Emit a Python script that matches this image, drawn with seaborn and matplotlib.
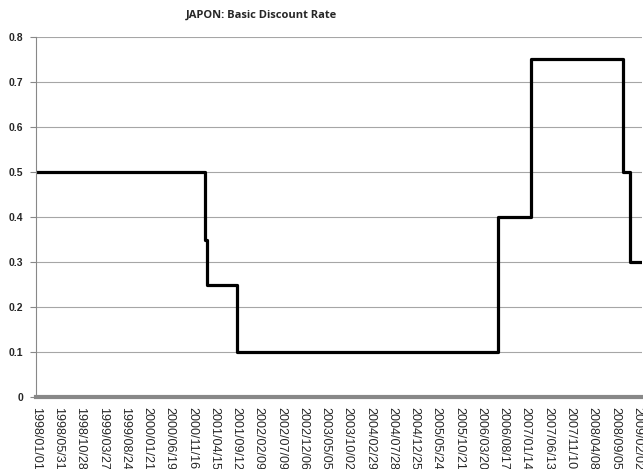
import pandas as pd
import numpy as np
import matplotlib
matplotlib.use("Agg")
import matplotlib.pyplot as plt
import matplotlib.dates as mdates
import seaborn as sns

# Dates when the basic discount rate changed (plus the last observation)
change_dates = ["1998-01-01", "2001-02-13", "2001-03-01", "2001-09-19",
                "2006-07-14", "2007-02-21", "2008-10-31", "2008-12-19",
                "2009-03-07"]
rates = [0.5, 0.35, 0.25, 0.10, 0.40, 0.75, 0.50, 0.30, 0.30]

# Category labels shown on the x axis (every 150 days)
tick_labels = ["1998/01/01", "1998/05/31", "1998/10/28", "1999/03/27",
               "1999/08/24", "2000/01/21", "2000/06/19", "2000/11/16",
               "2001/04/15", "2001/09/12", "2002/02/09", "2002/07/09",
               "2002/12/06", "2003/05/05", "2003/10/02", "2004/02/29",
               "2004/07/28", "2004/12/25", "2005/05/24", "2005/10/21",
               "2006/03/20", "2006/08/17", "2007/01/14", "2007/06/13",
               "2007/11/10", "2008/04/08", "2008/09/05", "2009/02/02"]

df = pd.DataFrame({"date": pd.to_datetime(change_dates), "rate": rates})
tick_pos = pd.to_datetime(tick_labels, format="%Y/%m/%d")

sns.set_style("white")
plt.rcParams["font.family"] = ["Liberation Sans", "DejaVu Sans"]

fig = plt.figure(figsize=(6.43, 4.69), dpi=100)
ax = fig.add_axes([36 / 643, 1 - 397 / 469, 606 / 643, 360 / 469])

sns.lineplot(data=df, x="date", y="rate", ax=ax, color="black",
             linewidth=2.3, drawstyle="steps-post", sort=True)

ax.set_xlim(df["date"].iloc[0], df["date"].iloc[-1])
ax.set_ylim(0, 0.8)
ax.set_yticks(np.arange(0, 0.81, 0.1))
ax.set_yticklabels(["0"] + [f"{v:.1f}" for v in np.arange(0.1, 0.81, 0.1)],
                   fontsize=7.5, fontweight="bold",
                   family=["Liberation Sans", "DejaVu Sans"])
ax.yaxis.grid(True, color="#a6a6a6", linewidth=0.8)
ax.set_axisbelow(True)

ax.set_xticks(mdates.date2num(tick_pos))
ax.set_xticklabels(tick_labels, rotation=270, fontsize=9, va="top",
                   ha="center", family=["Liberation Sans", "DejaVu Sans"])
ax.tick_params(axis="x", length=0, pad=7)
ax.tick_params(axis="y", length=4, color="#888888", pad=5, left=True)

ax.set_xlabel("")
ax.set_ylabel("")
for side in ["top", "right"]:
    ax.spines[side].set_visible(False)
ax.spines["left"].set_color("#888888")
ax.spines["left"].set_linewidth(0.8)
ax.spines["bottom"].set_color("#888888")
ax.spines["bottom"].set_linewidth(3)

fig.text(261 / 643, 1 - 15 / 469, "JAPON: Basic Discount Rate",
         ha="center", va="center", fontsize=8, fontweight="bold",
         family=["Open Sans", "DejaVu Sans"])

fig.savefig("out.png", dpi=100)
